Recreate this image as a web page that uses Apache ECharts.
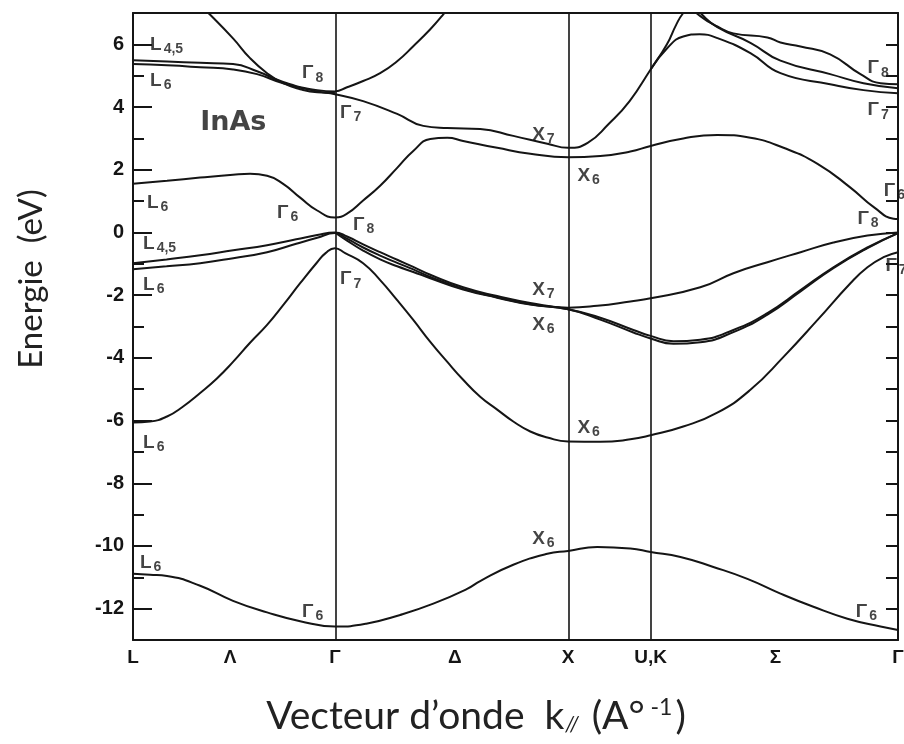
<!DOCTYPE html>
<html>
<head>
<meta charset="utf-8">
<script src="https://cdn.jsdelivr.net/npm/echarts@6/dist/echarts.min.js"></script>
<style>
    html, body { margin: 0; background: #fff; }
    #app { width: 904px; height: 744px; }
</style>
</head>
<body>
<div id="app"></div>
<script>
// points de haute symétrie (k en unités 2π/a)
const kGamma = 0.866, kX = 1.866, kUK = 2.22, kEnd = 3.281;
const kVertical = [kGamma, kX, kUK];
const kLabelPos = [0, 0.416, kGamma, 1.38, kX, kUK, 2.755, kEnd];
const kLabelText = ["L", "Λ", "Γ", "Δ", "X", "U,K", "Σ", "Γ"];

// graduations de l'axe des énergies
const yMajor = [-12, -10, -8, -6, -4, -2, 0, 2, 4, 6];
const yMinor = [-11, -9, -7, -5, -3, -1, 1, 3, 5];
const yRight = [-12, -11, -10, -9, -8, -7, -6, -5, -4, -3, -2, -1, 0, 1, 2, 3, 4, 5, 6];

// bandes de valence [k, E(eV)]
const bandV1 = [[0, -10.89], [0.073, -10.92], [0.146, -10.96], [0.288, -11.27], [0.429, -11.75], [0.575, -12.12],
    [0.717, -12.4], [0.866, -12.57], [1.0, -12.48], [1.146, -12.2], [1.288, -11.84], [1.433, -11.37], [1.489, -11.12],
    [1.631, -10.6], [1.777, -10.25], [1.866, -10.16], [1.991, -10.03], [2.133, -10.08], [2.22, -10.19],
    [2.348, -10.35], [2.489, -10.67], [2.635, -11.05], [2.777, -11.52], [2.918, -11.94], [3.064, -12.32], [3.206, -12.57],
    [3.281, -12.68]];
const bandV2 = [[0, -6.06], [0.073, -6.03], [0.146, -5.87], [0.215, -5.55], [0.288, -5.12], [0.361, -4.65], [0.429, -4.13],
    [0.502, -3.52], [0.575, -2.95], [0.644, -2.32], [0.717, -1.62], [0.79, -0.95], [0.826, -0.66], [0.866, -0.5],
    [0.91, -0.66], [0.987, -0.98], [1.06, -1.52], [1.133, -2.16], [1.202, -2.79], [1.275, -3.49], [1.348, -4.13],
    [1.416, -4.7], [1.489, -5.24], [1.562, -5.65], [1.631, -6.03], [1.704, -6.35], [1.777, -6.54], [1.866, -6.67],
    [2.004, -6.68], [2.133, -6.6], [2.22, -6.47], [2.36, -6.19], [2.506, -5.75], [2.648, -5.02], [2.79, -3.97],
    [2.936, -2.79], [3.077, -1.62], [3.15, -1.11], [3.219, -0.79], [3.281, -0.63]];
const bandV3 = [[0, -0.98], [0.144, -0.86], [0.288, -0.73], [0.43, -0.57], [0.575, -0.41], [0.7, -0.22], [0.79, -0.08],
    [0.866, 0], [0.918, -0.13], [0.987, -0.38], [1.06, -0.63], [1.133, -0.87], [1.202, -1.1], [1.275, -1.35],
    [1.416, -1.75], [1.562, -2.03], [1.704, -2.25], [1.866, -2.4], [1.991, -2.34], [2.133, -2.2], [2.22, -2.1],
    [2.433, -1.75], [2.575, -1.3], [2.721, -0.95], [2.863, -0.63], [3.004, -0.32], [3.15, -0.1], [3.281, 0]];
const bandV4 = [[0, -1.17], [0.144, -1.08], [0.288, -0.98], [0.43, -0.82], [0.575, -0.63], [0.7, -0.36], [0.79, -0.17],
    [0.866, -0.02], [0.918, -0.2], [0.987, -0.48], [1.06, -0.74], [1.133, -0.97], [1.202, -1.18], [1.275, -1.42],
    [1.416, -1.8], [1.562, -2.07], [1.704, -2.29], [1.866, -2.45], [2.004, -2.72], [2.146, -3.11], [2.22, -3.3],
    [2.318, -3.47], [2.433, -3.42], [2.575, -3.11], [2.721, -2.57], [2.863, -1.84], [3.004, -1.11], [3.15, -0.48],
    [3.281, -0.02]];
const bandV5 = [[0.866, 0], [0.918, -0.26], [0.987, -0.58], [1.06, -0.86], [1.133, -1.08], [1.202, -1.26], [1.275, -1.46],
    [1.416, -1.82], [1.562, -2.08], [1.704, -2.3], [1.866, -2.45], [2.004, -2.78], [2.146, -3.19], [2.22, -3.38],
    [2.318, -3.55], [2.433, -3.5], [2.575, -3.18], [2.721, -2.62], [2.863, -1.88], [3.004, -1.14], [3.15, -0.5],
    [3.281, -0.02]];

// bandes de conduction
const bandC1 = [[0, 1.55], [0.146, 1.65], [0.288, 1.75], [0.429, 1.84], [0.502, 1.87], [0.575, 1.81], [0.644, 1.55],
    [0.717, 1.11], [0.79, 0.7], [0.866, 0.48], [0.918, 0.6], [0.987, 1.02], [1.06, 1.49], [1.133, 2.06], [1.202, 2.6],
    [1.275, 2.98], [1.348, 3.02], [1.416, 2.92], [1.562, 2.7], [1.704, 2.51], [1.866, 2.4], [2.004, 2.44],
    [2.133, 2.58], [2.22, 2.76], [2.36, 3.0], [2.506, 3.11], [2.648, 3.02], [2.79, 2.7], [2.936, 2.19], [3.077, 1.43],
    [3.18, 0.79], [3.262, 0.44], [3.281, 0.43]];
const bandC2 = [[0, 5.37], [0.146, 5.33], [0.288, 5.27], [0.429, 5.2], [0.532, 5.05], [0.644, 4.76], [0.79, 4.5],
    [0.866, 4.41], [0.987, 4.19], [1.133, 3.78], [1.245, 3.4], [1.348, 3.33], [1.489, 3.3], [1.631, 3.08], [1.777, 2.83],
    [1.866, 2.7], [1.95, 2.86], [2.04, 3.46], [2.13, 4.19], [2.22, 5.2], [2.29, 6.0], [2.33, 6.63], [2.36, 7.0],
    [2.4, 7.3], [2.44, 6.95], [2.506, 6.55], [2.648, 6.05], [2.777, 5.48], [2.99, 5.05], [3.133, 4.76], [3.281, 4.6]];
const bandC3 = [[0, 5.49], [0.146, 5.45], [0.288, 5.41], [0.429, 5.37], [0.532, 5.14], [0.644, 4.8], [0.79, 4.54],
    [0.866, 4.5], [0.918, 4.63], [0.987, 4.83], [1.06, 5.08], [1.133, 5.46], [1.202, 5.94], [1.275, 6.48], [1.33, 6.95],
    [1.42, 7.8], [1.6, 8.6], [1.866, 9.0], [2.22, 8.4], [2.36, 7.4], [2.433, 6.9], [2.506, 6.57], [2.575, 6.35],
    [2.721, 6.22], [2.777, 6.06], [2.863, 5.93], [2.99, 5.68], [3.12, 5.05], [3.206, 4.76], [3.281, 4.73]];
const bandC4 = [[0, 9.0], [0.2, 7.9], [0.33, 6.95], [0.429, 6.19], [0.502, 5.56], [0.575, 5.08], [0.644, 4.76],
    [0.717, 4.57], [0.79, 4.47], [0.866, 4.45]];
const bandC5 = [[2.22, 5.2], [2.29, 5.87], [2.36, 6.25], [2.43, 6.32], [2.51, 6.19], [2.648, 5.72], [2.777, 5.08],
    [2.99, 4.73], [3.133, 4.54], [3.281, 4.44]];

const bands = [bandV1, bandV2, bandV3, bandV4, bandV5, bandC1, bandC2, bandC3, bandC4, bandC5];

// étiquettes des niveaux : [lettre, indice, k, E]
const levelLabels = [
    ["L", "4,5", 0.073, 6.0], ["L", "6", 0.073, 4.83], ["Γ", "8", 0.725, 5.08], ["Γ", "7", 0.888, 3.81],
    ["X", "7", 1.712, 3.11], ["X", "6", 1.906, 1.81], ["L", "6", 0.06, 0.95], ["Γ", "6", 0.618, 0.63],
    ["Γ", "8", 0.944, 0.25], ["L", "4,5", 0.043, -0.35], ["L", "6", 0.043, -1.68], ["Γ", "7", 0.888, -1.49],
    ["X", "7", 1.712, -1.84], ["X", "6", 1.712, -2.95], ["X", "6", 1.906, -6.22], ["L", "6", 0.043, -6.7],
    ["X", "6", 1.712, -9.78], ["L", "6", 0.03, -10.54], ["Γ", "6", 0.725, -12.1], ["Γ", "6", 3.1, -12.1],
    ["Γ", "8", 3.15, 5.24], ["Γ", "7", 3.15, 3.9], ["Γ", "6", 3.22, 1.33], ["Γ", "8", 3.107, 0.44],
    ["Γ", "7", 3.227, -1.05]
];
const materialLabel = ["InAs", 0.288, 3.49];

let myChart = echarts.init(document.querySelector("#app"));

let lineSeries = bands.map((b, i) => ({
    type: "line",
    data: b,
    showSymbol: false,
    smooth: 0.5,
    clip: true,
    silent: true,
    lineStyle: {color: "#151515", width: 2},
    markLine: i === 0 ? {
        silent: true,
        symbol: ["none", "none"],
        label: {show: false},
        lineStyle: {color: "#151515", width: 1.6, type: "solid"},
        data: kVertical.map(k => ({xAxis: k}))
    } : undefined
}));

let labelSeries = {
    type: "scatter",
    symbolSize: 0,
    silent: true,
    data: levelLabels.map(l => ({value: [l[2], l[3]], main: l[0], sub: l[1]})),
    label: {
        show: true,
        position: "right",
        distance: 0,
        formatter: p => "{m|" + p.data.main + "}{s|" + p.data.sub + "}",
        rich: {
            m: {fontSize: 19, fontWeight: "bold", color: "#151515", fontFamily: "Liberation Sans", lineHeight: 22},
            s: {fontSize: 14, fontWeight: "bold", color: "#151515", fontFamily: "Liberation Sans", verticalAlign: "bottom", padding: [9, 0, 0, 2]}
        }
    }
};

let materialSeries = {
    type: "scatter",
    symbolSize: 0,
    silent: true,
    data: [[materialLabel[1], materialLabel[2]]],
    label: {
        show: true,
        position: "right",
        distance: 0,
        formatter: materialLabel[0],
        fontSize: 27,
        fontWeight: "bold",
        fontFamily: "DejaVu Sans",
        color: "#151515"
    }
};

let axisLineStyle = {color: "#151515", width: 2};

myChart.setOption({
    animation: false,
    backgroundColor: "#fff",
    grid: {left: 133, right: 6, top: 13, bottom: 104, outerBoundsMode: "none"},
    xAxis: [
        {
            type: "value", min: 0, max: kEnd, position: "bottom",
            axisLine: {show: true, onZero: false, lineStyle: axisLineStyle},
            axisTick: {show: false},
            splitLine: {show: false},
            axisLabel: {
                customValues: kLabelPos,
                showMinLabel: true, showMaxLabel: true,
                margin: 8,
                color: "#151515", fontSize: 19, fontWeight: "bold", fontFamily: "Liberation Sans",
                formatter: v => {
                    let i = kLabelPos.findIndex(k => Math.abs(k - v) < 1e-6);
                    return i >= 0 ? kLabelText[i] : "";
                }
            }
        },
        {
            type: "value", min: 0, max: kEnd, position: "top",
            axisLine: {show: true, onZero: false, lineStyle: axisLineStyle},
            axisTick: {show: false}, axisLabel: {show: false}, splitLine: {show: false}
        }
    ],
    yAxis: [
        {
            type: "value", min: -13, max: 7, position: "left",
            axisLine: {show: true, onZero: false, lineStyle: axisLineStyle},
            axisTick: {inside: true, length: 19, customValues: yMajor, lineStyle: axisLineStyle},
            splitLine: {show: false},
            axisLabel: {
                customValues: yMajor, margin: 9,
                color: "#151515", fontSize: 20, fontWeight: "bold", fontFamily: "Liberation Sans"
            }
        },
        {
            type: "value", min: -13, max: 7, position: "left",
            axisLine: {show: false, onZero: false},
            axisTick: {inside: true, length: 11, customValues: yMinor, lineStyle: axisLineStyle},
            axisLabel: {show: false}, splitLine: {show: false}
        },
        {
            type: "value", min: -13, max: 7, position: "right",
            axisLine: {show: true, onZero: false, lineStyle: axisLineStyle},
            axisTick: {inside: true, length: 12, customValues: yRight, lineStyle: axisLineStyle},
            axisLabel: {show: false}, splitLine: {show: false}
        }
    ],
    graphic: [
        {
            type: "text", x: 31, y: 279, rotation: Math.PI / 2,
            style: {
                text: "Energie  (eV)", fontSize: 33, fontFamily: "Lato", fill: "#222",
                align: "center", verticalAlign: "middle"
            }
        },
        {
            type: "text", x: 476, y: 716,
            style: {
                text: "{a|Vecteur d’onde  k}{s|//}{a| (A°}{p| -1}{a|)}",
                align: "center", verticalAlign: "middle",
                rich: {
                    a: {fontSize: 39, fontFamily: "Lato", fill: "#222", lineHeight: 44},
                    s: {fontSize: 21, fontFamily: "Lato", fontStyle: "italic", fill: "#222", verticalAlign: "bottom", padding: [0, 3, 3, 1]},
                    p: {fontSize: 23, fontFamily: "Lato", fill: "#222", verticalAlign: "top", padding: [2, 3, 0, 0]}
                }
            }
        }
    ],
    series: lineSeries.concat([labelSeries, materialSeries])
});
</script>
</body>
</html>
